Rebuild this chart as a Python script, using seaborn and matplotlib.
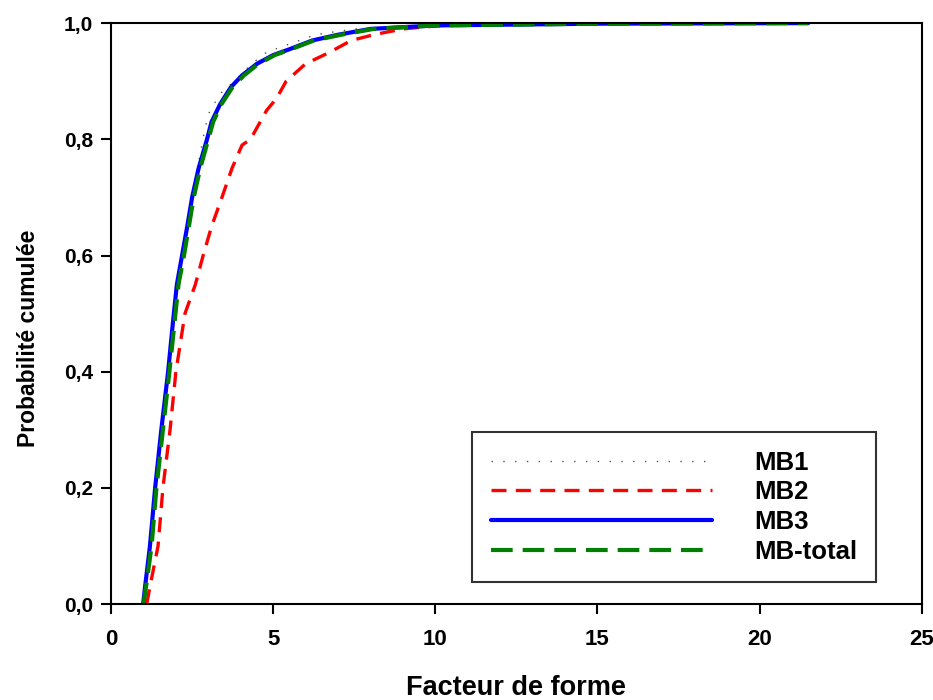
import numpy as np
import pandas as pd
import matplotlib
matplotlib.use("Agg")
import matplotlib.pyplot as plt
import seaborn as sns

# ── Data ──────────────────────────────────────────────────────────────
mb1_x = [0.99, 1.05, 1.2, 1.36, 1.55, 1.76, 1.9, 2.03, 2.19, 2.35, 2.5, 2.7,
         2.9, 3.05, 3.4, 3.8, 4.34, 4.8, 5.3, 6.3, 7.5, 10.0, 15.0, 21.5]
mb1_y = [0.0, 0.03, 0.1, 0.2, 0.3, 0.4, 0.48, 0.55, 0.6, 0.65, 0.7, 0.76,
         0.82, 0.85, 0.88, 0.9, 0.93, 0.95, 0.96, 0.98, 0.99, 0.997, 0.999, 1.0]

mb2_x = [1.1, 1.2, 1.45, 1.6, 1.82, 2.0, 2.28, 2.6, 2.84, 3.1, 3.42, 3.73,
         4.04, 4.3, 4.8, 5.1, 5.4, 6.0, 6.75, 7.4, 8.1, 9.0, 11.0]
mb2_y = [0.0, 0.03, 0.1, 0.2, 0.3, 0.4, 0.5, 0.55, 0.6, 0.65, 0.7, 0.75,
         0.79, 0.8, 0.85, 0.87, 0.9, 0.93, 0.95, 0.97, 0.98, 0.99, 1.0]

mb3_x = [0.99, 1.05, 1.2, 1.36, 1.55, 1.76, 1.9, 2.03, 2.19, 2.35, 2.5, 2.7,
         2.96, 3.1, 3.36, 3.7, 4.04, 4.5, 5.0, 5.5, 6.2, 7.0, 8.0, 10.0, 15.0, 21.5]
mb3_y = [0.0, 0.03, 0.1, 0.2, 0.3, 0.4, 0.48, 0.55, 0.6, 0.65, 0.7, 0.75,
         0.8, 0.83, 0.86, 0.89, 0.91, 0.93, 0.945, 0.955, 0.97, 0.98, 0.99, 0.996, 0.999, 1.0]

mbt_x = [1.0, 1.08, 1.25, 1.4, 1.6, 1.8, 1.95, 2.08, 2.25, 2.4, 2.55, 2.75,
         3.0, 3.15, 3.4, 3.75, 4.1, 4.55, 5.05, 5.55, 6.25, 7.1, 8.1, 10.0, 15.0, 21.5]
mbt_y = mb3_y

x_ticks = [0, 5, 10, 15, 20, 25]
y_ticks = [0.0, 0.2, 0.4, 0.6, 0.8, 1.0]
y_tick_labels = ["0,0", "0,2", "0,4", "0,6", "0,8", "1,0"]

# ── Style ─────────────────────────────────────────────────────────────
sns.set_style("white")
plt.rcParams['font.family'] = ['Liberation Sans', 'DejaVu Sans']
plt.rcParams['font.weight'] = 'bold'
plt.rcParams['text.color'] = 'black'
plt.rcParams['axes.labelcolor'] = 'black'
plt.rcParams['xtick.color'] = 'black'
plt.rcParams['ytick.color'] = 'black'

fig = plt.figure(figsize=(9.33, 7.0), dpi=100)
ax = fig.add_axes([0.119, 0.137, 0.869, 0.830])

series = [
    ("MB1", mb1_x, mb1_y, dict(color="#555555", lw=1.0, ls=(0, (1, 7.5)))),
    ("MB2", mb2_x, mb2_y, dict(color="#ff0000", lw=2.4, ls=(0, (4.5, 2.8)))),
    ("MB3", mb3_x, mb3_y, dict(color="#0000ff", lw=3.0, ls="-")),
    ("MB-total", mbt_x, mbt_y, dict(color="#008000", lw=3.0, ls=(0, (5.2, 2.4)))),
]
for name, xs, ys, st in series:
    df = pd.DataFrame({"x": xs, "y": ys})
    sns.lineplot(data=df, x="x", y="y", ax=ax, estimator=None, sort=False,
                 label=name, color=st["color"], linewidth=st["lw"],
                 linestyle=st["ls"])

ax.set_xlim(0, 25)
ax.set_ylim(0, 1)
ax.set_xticks(x_ticks)
ax.set_xticklabels([str(t) for t in x_ticks], fontsize=16, fontweight='bold')
ax.set_yticks(y_ticks)
ax.set_yticklabels(y_tick_labels, fontsize=15, fontweight='bold')
ax.tick_params(axis='both', direction='out', length=7, width=1.5,
               bottom=True, left=True)
ax.tick_params(axis='x', pad=11)
ax.tick_params(axis='y', pad=6)
for s in ax.spines.values():
    s.set_color('black')
    s.set_linewidth(1.5)

ax.set_xlabel("Facteur de forme", fontsize=19.5, fontweight='bold', labelpad=18)
ax.set_ylabel("Probabilité cumulée", fontsize=16.5, fontweight='bold')
ax.yaxis.set_label_coords(-0.087, 0.458)

leg = ax.legend(loc='lower right', bbox_to_anchor=(0.943, 0.038),
                borderaxespad=0, fontsize=18.5, handlelength=8.6,
                handletextpad=1.65, labelspacing=0.22, borderpad=0.72,
                fancybox=False, frameon=True)
leg.get_frame().set_edgecolor('black')
leg.get_frame().set_linewidth(1.5)
for t in leg.get_texts():
    t.set_fontweight('bold')

fig.savefig("out.png", dpi=100)
